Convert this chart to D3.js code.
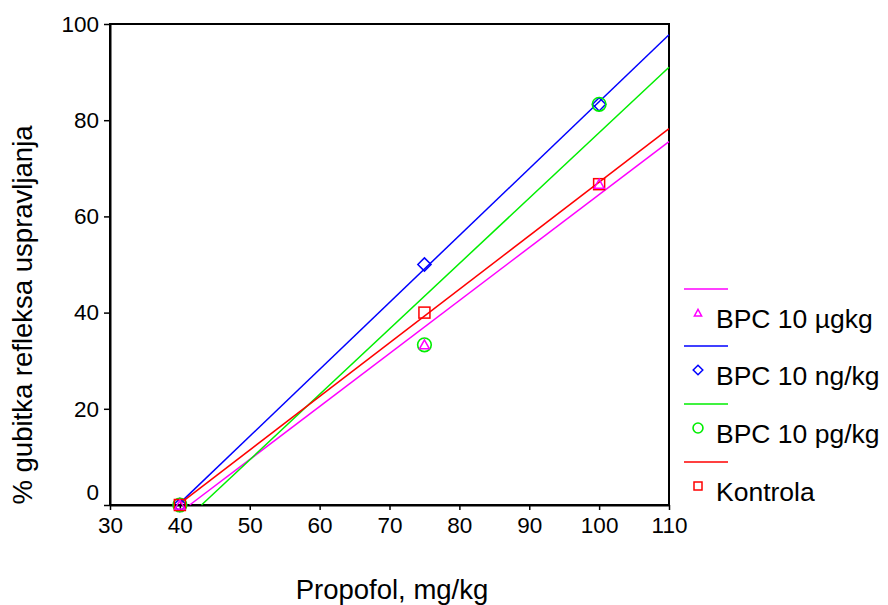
<!DOCTYPE html>
<html><head><meta charset="utf-8">
<script src="https://cdn.jsdelivr.net/npm/d3@7"></script>
<style>body{margin:0;background:#fff}svg{display:block;font-family:"Liberation Sans",Arial,sans-serif}</style>
</head><body>
<svg id="c" width="888" height="605"></svg>
<script>
const doses = [40, 75, 100];
const seriesNames = ["BPC 10 \u00b5gkg", "BPC 10 ng/kg", "BPC 10 pg/kg", "Kontrola"];
const seriesColors = ["#ff00ff", "#0000ff", "#00ee00", "#ff0000"];
const seriesSymbols = ["triangle", "diamond", "circle", "square"];
const valsUg = [0, 33.3, 66.7];
const valsNg = [0, 50, 83.3];
const valsPg = [0, 33.3, 83.3];
const valsKontrola = [0, 40, 66.7];
const xTicks = [30, 40, 50, 60, 70, 80, 90, 100, 110];
const yTicks = [0, 20, 40, 60, 80, 100];

const seriesVals = [valsUg, valsNg, valsPg, valsKontrola];
const svg = d3.select("#c");
const x = d3.scaleLinear().domain([30, 110]).range([110, 669]);
const y = d3.scaleLinear().domain([0, 100]).range([505, 24]);

// frame
svg.append("rect").attr("x", 110).attr("y", 24).attr("width", 559).attr("height", 481)
  .attr("fill", "none").attr("stroke", "#000").attr("stroke-width", 2);

// axes
const xa = svg.append("g").attr("transform", "translate(0,505)")
  .call(d3.axisBottom(x).tickValues(xTicks).tickSize(5).tickSizeOuter(0));
const ya = svg.append("g").attr("transform", "translate(110,0)")
  .call(d3.axisLeft(y).tickValues(yTicks).tickSize(6).tickSizeOuter(0));
[xa, ya].forEach(g => {
  g.select(".domain").attr("stroke", "#000").attr("stroke-width", 2);
  g.selectAll(".tick line").attr("stroke", "#000").attr("stroke-width", 1.5);
  g.selectAll("text").attr("font-size", 22.5).attr("fill", "#000").attr("font-family", "Liberation Sans, Arial, sans-serif");
});
xa.selectAll("text").attr("dy", "0.95em").attr("y", 7);
ya.selectAll("text").attr("x", -11);
ya.selectAll(".tick").filter(d => d === 0).select("text").attr("dy", "-0.25em");

// regression lines
function fit(xs, ys) {
  const mx = d3.mean(xs), my = d3.mean(ys);
  let sxy = 0, sxx = 0;
  xs.forEach((v, i) => { sxy += (v - mx) * (ys[i] - my); sxx += (v - mx) ** 2; });
  const b = sxy / sxx; return { b, a: my - b * mx };
}
const line = d3.line().x(d => x(d[0])).y(d => y(d[1]));
const order = [1, 2, 3, 0];
seriesVals.forEach((vals, i) => {
  const f = fit(doses, vals);
  const x0 = Math.max(40, -f.a / f.b);
  svg.append("path").attr("d", line([[x0, f.a + f.b * x0], [110, f.a + f.b * 110]]))
    .attr("stroke", seriesColors[i]).attr("stroke-width", 1.5).attr("fill", "none");
});

function symbol(g, type, cx, cy, s, color) {
  if (type === "circle") {
    g.append("circle").attr("cx", cx).attr("cy", cy).attr("r", s * 0.62).attr("fill", "none").attr("stroke", color).attr("stroke-width", 1.6);
  } else if (type === "square") {
    g.append("rect").attr("x", cx - s / 2).attr("y", cy - s / 2).attr("width", s).attr("height", s).attr("fill", "none").attr("stroke", color).attr("stroke-width", 1.5);
  } else if (type === "diamond") {
    const h = s * 0.6;
    g.append("path").attr("d", `M${cx},${cy - h}L${cx + h},${cy}L${cx},${cy + h}L${cx - h},${cy}Z`).attr("fill", "none").attr("stroke", color).attr("stroke-width", 1.5);
  } else {
    const h = s * 0.45;
    g.append("path").attr("d", `M${cx},${cy - h}L${cx + h},${cy + h * 0.8}L${cx - h},${cy + h * 0.8}Z`).attr("fill", "none").attr("stroke", color).attr("stroke-width", 1.5);
  }
}
order.forEach(i => {
  seriesVals[i].forEach((v, j) => symbol(svg, seriesSymbols[i], x(doses[j]), y(v), 11, seriesColors[i]));
});

// legend
const ly = [289, 346, 404, 462];
seriesNames.forEach((n, i) => {
  svg.append("line").attr("x1", 684).attr("x2", 728).attr("y1", ly[i]).attr("y2", ly[i])
    .attr("stroke", seriesColors[i]).attr("stroke-width", 1.5);
  symbol(svg, seriesSymbols[i], 698, ly[i] + 24, 8, seriesColors[i]);
  svg.append("text").attr("x", 716).attr("y", ly[i] + 39).attr("font-size", 26.5).text(n);
});

// titles
svg.append("text").attr("x", 392).attr("y", 599).attr("text-anchor", "middle").attr("font-size", 27.5).text("Propofol, mg/kg");
svg.append("text").attr("transform", "translate(32,315) rotate(-90)").attr("text-anchor", "middle").attr("font-size", 27.5).text("% gubitka refleksa uspravljanja");
</script>
</body></html>
